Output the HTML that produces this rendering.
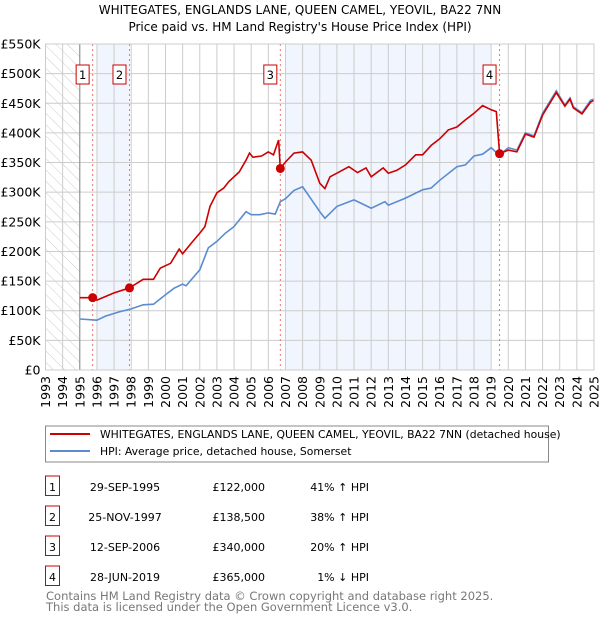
<!DOCTYPE html>
<html><head><meta charset="utf-8"><style>
body{margin:0;background:#fff;font-family:"Liberation Sans","DejaVu Sans",sans-serif;}
#wrap{position:relative;width:600px;height:620px;overflow:hidden;}
svg text{font-family:"DejaVu Sans","Liberation Sans",sans-serif;}
</style></head><body>
<div id="wrap">
<svg id="chart" width="600" height="620" viewBox="0 0 600 620">
<text x="300" y="14" text-anchor="middle" font-size="12" fill="#000">WHITEGATES, ENGLANDS LANE, QUEEN CAMEL, YEOVIL, BA22 7NN</text>
<text x="300" y="31" text-anchor="middle" font-size="12" fill="#000">Price paid vs. HM Land Registry's House Price Index (HPI)</text>
<defs><pattern id="hatch" width="8" height="8" patternUnits="userSpaceOnUse" patternTransform="rotate(-45)"><line x1="0" y1="0" x2="0" y2="8" stroke="#ccc" stroke-width="1"/></pattern></defs>
<g id="plot"></g>
<rect x="45.5" y="426" width="503" height="36" fill="#fff" stroke="#888"/>
<line x1="50" y1="434" x2="90" y2="434" stroke="#cc0000" stroke-width="2"/>
<text x="100" y="438" font-size="10.8">WHITEGATES, ENGLANDS LANE, QUEEN CAMEL, YEOVIL, BA22 7NN (detached house)</text>
<line x1="50" y1="451" x2="90" y2="451" stroke="#5b8bd0" stroke-width="2"/>
<text x="100" y="455" font-size="10.8">HPI: Average price, detached house, Somerset</text>
<g id="table"></g>
<text x="46" y="600" font-size="11.5" fill="#777">Contains HM Land Registry data © Crown copyright and database right 2025.</text>
<text x="46" y="611" font-size="11.5" fill="#777">This data is licensed under the Open Government Licence v3.0.</text>
</svg>
</div>
<script>
const hpiYears=[1995,1996,1996.5,1997.3,1998,1998.7,1999.3,2000,2000.5,2001,2001.2,2002,2002.5,2003,2003.5,2004,2004.7,2005,2005.5,2006,2006.4,2006.7,2007,2007.5,2008,2009,2009.3,2010,2011,2011.5,2012,2012.8,2013,2014,2015,2015.5,2016,2017,2017.5,2018,2018.5,2019,2019.3,2019.5,2020,2020.5,2021,2021.5,2022,2022.8,2023.3,2023.6,2023.8,2024.3,2024.8,2025];
const hpiValues=[86,84,91,98,103,110,111,127,138,145,142,169,206,217,231,242,267,262,262,265,263,284,289,303,309,267,256,276,287,280,273,284,278,290,304,307,320,343,346,361,364,375,367,363,375,371,400,395,433,471,447,459,444,434,455,457];
const propYears=[1995,1995.75,1996,1997,1997.9,1998.7,1999.3,1999.7,2000.3,2000.8,2001,2001.5,2002,2002.3,2002.6,2003,2003.4,2003.7,2004.3,2004.7,2004.9,2005.1,2005.6,2006,2006.3,2006.6,2006.7,2007,2007.5,2008,2008.5,2009,2009.3,2009.6,2010,2010.7,2011.2,2011.7,2012,2012.7,2013,2013.5,2014,2014.6,2015,2015.5,2016,2016.5,2017,2017.5,2018,2018.5,2019,2019.3,2019.49,2020,2020.5,2021,2021.5,2022,2022.8,2023.3,2023.6,2023.8,2024.3,2024.8,2025];
const propValues=[122,122,118,130,138.5,153,153,172,180,204,196,214,231,242,276,299,307,318,334,354,366,359,361,368,363,388,340,351,366,368,354,315,306,326,332,343,333,341,326,341,332,337,346,363,363,379,390,405,410,422,433,446,439,436,365,371,368,398,393,430,468,445,457,442,432,452,455];
const saleYears=[1995.75,1997.9,2006.7,2019.49];
const saleValues=[122,138.5,340,365];
const saleLabels=["1","2","3","4"];
const saleDates=["29-SEP-1995","25-NOV-1997","12-SEP-2006","28-JUN-2019"];
const salePrices=["£122,000","£138,500","£340,000","£365,000"];
const salePcts=["41% \u2191 HPI","38% \u2191 HPI","20% \u2191 HPI","1% \u2193 HPI"];
const yTicks=[0,50,100,150,200,250,300,350,400,450,500,550];
const yTickLabels=["£0","£50K","£100K","£150K","£200K","£250K","£300K","£350K","£400K","£450K","£500K","£550K"];
const xTicks=[1993,1994,1995,1996,1997,1998,1999,2000,2001,2002,2003,2004,2005,2006,2007,2008,2009,2010,2011,2012,2013,2014,2015,2016,2017,2018,2019,2020,2021,2022,2023,2024,2025];

const X0=45.5,X1=594,Y0=370,Y1=44;
const xs=y=>X0+(y-1993)/(2025-1993)*(X1-X0);
const ys=v=>Y0-v/550*(Y0-Y1);
const NS="http://www.w3.org/2000/svg";
const plot=document.getElementById('plot');
function mk(tag,attrs,parent){const e=document.createElementNS(NS,tag);for(const k in attrs)e.setAttribute(k,attrs[k]);(parent||plot).appendChild(e);return e;}

let e;
e=mk('rect',{x:xs(1996),y:Y1,width:xs(saleYears[1])-xs(1996),height:Y0-Y1,fill:'#eef3fc',opacity:0.8});


e=mk('rect',{x:xs(2007),y:Y1,width:xs(2019)-xs(2007),height:Y0-Y1,fill:'#eef3fc',opacity:0.8});


e=mk('rect',{x:X0,y:Y1,width:xs(1995)-X0,height:Y0-Y1,fill:'url(#hatch)'});



yTicks.forEach((t,i)=>{
  e=mk('line',{x1:X0,x2:X1,y1:ys(t),y2:ys(t),stroke:'#ccc','stroke-width':1});
  
  
  e=mk('text',{x:X0-5,y:ys(t)+4.5,'text-anchor':'end','font-size':12.5,fill:'#000'});
  e.textContent=yTickLabels[i];
  
  
});
xTicks.forEach(t=>{
  e=mk('line',{x1:xs(t),x2:xs(t),y1:Y1,y2:Y0,stroke:'#ccc','stroke-width':1});
  
  
  e=mk('text',{x:0,y:0,'text-anchor':'end','font-size':12.5,fill:'#000',transform:`translate(${xs(t)+4.5},${Y0+6}) rotate(-90)`});
  e.textContent=t;
  
  
});
e=mk('line',{x1:xs(1995),x2:xs(1995),y1:Y1,y2:Y0,stroke:'#888','stroke-width':1});



saleYears.forEach((y,i)=>{
  e=mk('line',{x1:xs(y),x2:xs(y),y1:Y1,y2:Y0,stroke:'#f07070','stroke-width':1,'stroke-dasharray':'2,3'});
  
  
});

function pathFrom(xsArr,vArr){return xsArr.map((y,i)=>(i?'L':'M')+xs(y).toFixed(1)+','+ys(vArr[i]).toFixed(1)).join(' ');}
e=mk('path',{d:pathFrom(hpiYears,hpiValues),fill:'none',stroke:'#5b8bd0','stroke-width':1.6});


e=mk('path',{d:pathFrom(propYears,propValues),fill:'none',stroke:'#cc0000','stroke-width':1.6});



saleYears.forEach((y,i)=>{
  e=mk('circle',{cx:xs(y),cy:ys(saleValues[i]),r:4.5,fill:'#cc0000'});
  
  
  const bx=xs(y)-10;
  e=mk('rect',{x:bx-6.5,y:65,width:13,height:19,fill:'#fff',stroke:'#cc0000','stroke-width':1});
  
  
  e=mk('text',{x:bx,y:79,'text-anchor':'middle','font-size':11.5,fill:'#000'});
  e.textContent=saleLabels[i];
  
  
});
e=mk('rect',{x:X0,y:Y1,width:X1-X0,height:Y0-Y1,fill:'none',stroke:'#ccc'});



const tbl=document.getElementById('table');
saleLabels.forEach((l,i)=>{
  const top=476+i*30, cy=top+15;
  e=mk('rect',{x:45.5,y:top,width:14,height:19.5,fill:'#fff',stroke:'#cc0000','stroke-width':1},tbl);
  
  
  e=mk('text',{x:52.5,y:cy,'text-anchor':'middle','font-size':11},tbl);
  e.textContent=l;
  
  
  e=mk('text',{x:125,y:cy,'text-anchor':'middle','font-size':11},tbl);
  e.textContent=saleDates[i];
  
  
  e=mk('text',{x:265,y:cy,'text-anchor':'end','font-size':11},tbl);
  e.textContent=salePrices[i];
  
  
  e=mk('text',{x:369,y:cy,'text-anchor':'end','font-size':11},tbl);
  e.textContent=salePcts[i];
  
  
});
</script>
</body></html>
